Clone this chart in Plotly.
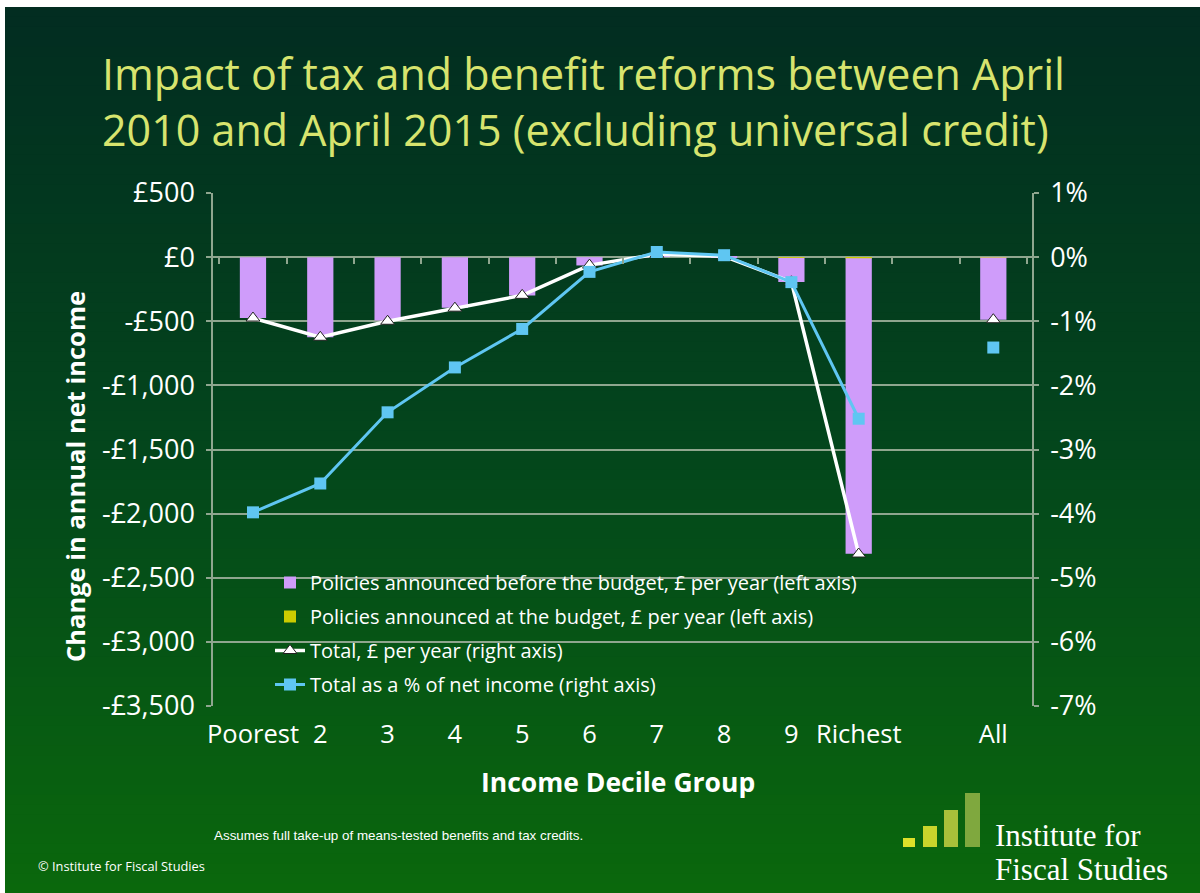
import plotly.graph_objects as go

# ---------------- data ----------------
categories = ["Poorest", "2", "3", "4", "5", "6", "7", "8", "9", "Richest", " ", "All"]
before_budget = [-475, -625, -495, -395, -300, -65, 20, 5, -188, -2305, None, -487]
at_budget = [0, 0, 0, 0, 0, 0, 0, 0, -6, -8, None, -2]
total_gbp = [-475, -625, -500, -398, -298, -62, 22, 6, -192, -2315, None, -488]
total_pct = [-3.98, -3.53, -2.42, -1.72, -1.12, -0.23, 0.08, 0.03, -0.39, -2.52, None, -1.41]

left_tickvals = [500, 0, -500, -1000, -1500, -2000, -2500, -3000, -3500]
left_ticktext = ["£500", "£0", "-£500", "-£1,000", "-£1,500", "-£2,000", "-£2,500", "-£3,000", "-£3,500"]
right_tickvals = [1, 0, -1, -2, -3, -4, -5, -6, -7]
right_ticktext = ["1%", "0%", "-1%", "-2%", "-3%", "-4%", "-5%", "-6%", "-7%"]

title_text = "Impact of tax and benefit reforms between April<br>2010 and April 2015 (excluding universal credit)"
names = [
    "Policies announced before the budget, £ per year (left axis)",
    "Policies announced at the budget, £ per year (left axis)",
    "Total, £ per year (right axis)",
    "Total as a % of net income (right axis)",
]

# ---------------- geometry helpers (pixel -> paper) ----------------
W, H = 1200, 893
L, R, T, B = 213, 1032, 193, 706


def px(x):
    return (x - L) / (R - L)


def py(y):
    return (B - y) / (B - T)


FONT = "Open Sans"
GRID = "#8fa68f"
PURPLE = "#cf9cfa"
YELLOW = "#cccc00"
BLUE = "#5fc6f2"

fig = go.Figure()

fig.add_trace(go.Bar(
    x=categories, y=at_budget, name=names[1], marker_color=YELLOW,
    marker_line_width=0, legendrank=2, legendgroup="g2", hoverinfo="skip",
))
fig.add_trace(go.Bar(
    x=categories, y=before_budget, name=names[0], marker_color=PURPLE,
    marker_line_width=0, legendrank=1, legendgroup="g1", hoverinfo="skip",
))
fig.add_trace(go.Scatter(
    x=categories, y=total_gbp, name=names[2], mode="lines+markers",
    line=dict(color="white", width=3.5),
    marker=dict(symbol="triangle-up", size=12, color="white",
                line=dict(color="#222222", width=1)),
    legendrank=3, legendgroup="g3", hoverinfo="skip",
))
fig.add_trace(go.Scatter(
    x=categories, y=total_pct, name=names[3], mode="lines+markers", yaxis="y2",
    line=dict(color=BLUE, width=3),
    marker=dict(symbol="square", size=12, color=BLUE),
    legendrank=4, legendgroup="g4", hoverinfo="skip",
))
# helper trace so the zero-line tick axis renders
fig.add_trace(go.Scatter(
    x=categories, y=[None] * len(categories), xaxis="x2", showlegend=False,
    hoverinfo="skip", mode="lines",
))

# ---------------- gradient background ----------------
shapes = []
stops = [(0, (2, 44, 33)), (450, (3, 70, 28)), (893, (10, 104, 12))]


def col_at(y):
    for (y0, c0), (y1, c1) in zip(stops[:-1], stops[1:]):
        if y0 <= y <= y1:
            t = (y - y0) / (y1 - y0)
            return "rgb(%d,%d,%d)" % tuple(round(a + (b - a) * t) for a, b in zip(c0, c1))
    return "rgb(%d,%d,%d)" % stops[-1][1]


nb = 90
top_px = 7
for i in range(nb):
    y0 = top_px + (H - top_px) * i / nb
    y1 = top_px + (H - top_px) * (i + 1) / nb
    shapes.append(dict(
        type="rect", xref="paper", yref="paper", layer="below",
        x0=px(5), x1=px(W + 5), y0=py(y1 + 0.8), y1=py(y0),
        fillcolor=col_at((y0 + y1) / 2), line=dict(width=0),
    ))

# logo bars
logo = [(903, 915, 838, "#dde02a"), (923, 937, 826, "#c9d42c"),
        (944, 958, 810, "#a9c03a"), (965, 980, 793, "#7fa83e")]
for x0, x1, ytop, c in logo:
    shapes.append(dict(type="rect", xref="paper", yref="paper",
                       x0=px(x0), x1=px(x1), y0=py(847), y1=py(ytop),
                       fillcolor=c, line=dict(width=0)))

annotations = [
    dict(text=title_text, x=px(100), y=py(101), xref="paper", yref="paper",
         xanchor="left", yanchor="middle", align="left", showarrow=False,
         font=dict(family=FONT, size=43, color="#d7e46e")),
    dict(text="<b>Change in annual net income</b>", x=px(75), y=py(477),
         xref="paper", yref="paper", textangle=-90, showarrow=False,
         xanchor="center", yanchor="middle",
         font=dict(family=FONT, size=25.5, color="white")),
    dict(text="<b>Income Decile Group</b>", x=px(618), y=py(782),
         xref="paper", yref="paper", showarrow=False,
         xanchor="center", yanchor="middle",
         font=dict(family=FONT, size=26.5, color="white")),
    dict(text="Assumes full take-up of means-tested benefits and tax credits.",
         x=px(398), y=py(835), xref="paper", yref="paper", showarrow=False,
         xanchor="center", yanchor="middle",
         font=dict(family="Liberation Sans", size=13.4, color="white")),
    dict(text="© Institute for Fiscal Studies", x=px(36), y=py(866),
         xref="paper", yref="paper", showarrow=False,
         xanchor="left", yanchor="middle",
         font=dict(family=FONT, size=12.8, color="white")),
    dict(text="Institute for", x=px(993), y=py(835),
         xref="paper", yref="paper", showarrow=False, align="left",
         xanchor="left", yanchor="middle",
         font=dict(family="Liberation Serif", size=31, color="white")),
    dict(text="Fiscal Studies", x=px(993), y=py(869),
         xref="paper", yref="paper", showarrow=False, align="left",
         xanchor="left", yanchor="middle",
         font=dict(family="Liberation Serif", size=31, color="white")),
]

xr = [-0.594, 11.575]
fig.update_layout(
    width=W, height=H, autosize=False,
    margin=dict(l=L, r=W - R, t=T, b=H - B, pad=0),
    paper_bgcolor="white", plot_bgcolor="rgba(0,0,0,0)",
    barmode="relative", bargap=0.61,
    shapes=shapes, annotations=annotations,
    hovermode=False,
    showlegend=True,
    legend=dict(x=px(270), y=py(563), xanchor="left", yanchor="top",
                bgcolor="rgba(0,0,0,0)", font=dict(family=FONT, size=20, color="white"),
                traceorder="grouped", itemwidth=30, tracegroupgap=5),
    xaxis=dict(type="category", categoryorder="array", categoryarray=categories,
               range=xr, showgrid=False, zeroline=False, showline=False,
               ticks="", tickfont=dict(family=FONT, size=25.5, color="white"),
               ticklabelstandoff=10),
    xaxis2=dict(type="category", categoryorder="array", categoryarray=categories,
                range=xr, overlaying="x", anchor="free", position=0.875,
                side="bottom", showgrid=False, zeroline=False, showline=False,
                showticklabels=False, ticks="outside", ticklen=6, tickwidth=1.5,
                tickcolor=GRID, tickson="boundaries"),
    yaxis=dict(range=[-3500, 500], tickvals=left_tickvals, ticktext=left_ticktext,
               showgrid=True, gridcolor=GRID, gridwidth=1.5, zeroline=False,
               showline=True, linecolor=GRID, linewidth=1.5,
               ticks="outside", ticklen=5, tickcolor=GRID, tickwidth=1.5,
               tickfont=dict(family=FONT, size=27, color="white"),
               ticklabelstandoff=6),
    yaxis2=dict(range=[-7, 1], tickvals=right_tickvals, ticktext=right_ticktext,
                overlaying="y", side="right", showgrid=False, zeroline=False,
                showline=True, linecolor=GRID, linewidth=1.5,
                ticks="outside", ticklen=5, tickcolor=GRID, tickwidth=1.5,
                tickfont=dict(family=FONT, size=27, color="white"),
                ticklabelstandoff=6),
)

fig.write_html("out.html")
